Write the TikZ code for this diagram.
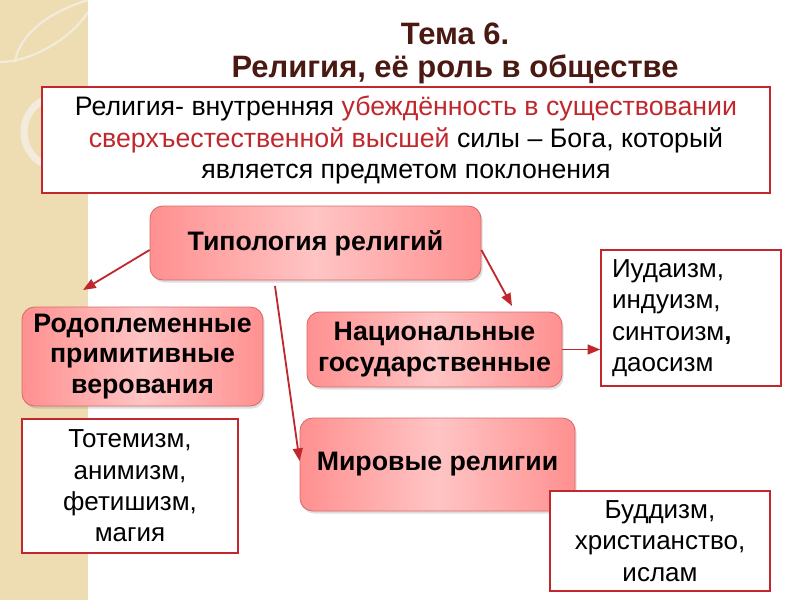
\documentclass[tikz,border=0pt]{standalone}
\usepackage{fontspec}
\setmainfont{Liberation Sans}
\usetikzlibrary{arrows.meta,shadows}
\definecolor{strip}{HTML}{EEDDB2}
\definecolor{deco}{HTML}{F3ECDC}
\definecolor{dred}{HTML}{C0282D}
\definecolor{ttl}{HTML}{4A1A12}
\definecolor{pinkedge}{HTML}{FF9090}
\definecolor{pinkmid}{HTML}{FFC4C4}
\definecolor{pinkline}{HTML}{D86A6A}
\newcommand{\pxu}{0.025cm}
\tikzset{
  pinkbox/.style={draw=pinkline, line width=0.6pt, rounded corners=9pt,
    left color=pinkedge, right color=pinkedge, middle color=pinkmid,
    drop shadow={opacity=0.25, shadow xshift=1.2pt, shadow yshift=-1.8pt},
    font=\fontsize{19}{21.6}\selectfont\bfseries, align=center, inner sep=0pt},
  whitebox/.style={draw=dred, line width=1pt, fill=white,
    font=\fontsize{18.5}{22.3}\selectfont, align=center, inner sep=0pt},
  arr/.style={draw=dred, line width=1.3pt, -{Triangle[length=9pt,width=7pt]}},
}
\begin{document}
\begin{tikzpicture}[x=\pxu, y=-\pxu]
\useasboundingbox (0,0) rectangle (800,600);
% background strip
\fill[white] (0,0) rectangle (800,600);
\fill[strip] (0,0) rectangle (88,600);
\begin{scope}
\clip (0,0) rectangle (88,600);
\draw[deco, line width=1.5pt] (88,0) .. controls (40,15) and (18,40) .. (15,62);
\draw[deco, line width=1.5pt] (0,62) .. controls (30,62) and (70,40) .. (88,12);
\draw[deco, line width=5pt] (60,132) circle (36);
\end{scope}
% title
\node[font=\fontsize{22}{23.4}\selectfont\bfseries, text=ttl, align=center] (title) at (455,53)
  {Тема 6.\\Религия, её роль в обществе};
% definition
\node[whitebox, minimum width={728*\pxu}, minimum height={106*\pxu}, font=\fontsize{19}{22.7}\selectfont] (def) at (406,140)
  {Религия- внутренняя \textcolor{dred}{убеждённость в существовании}\\
   \textcolor{dred}{сверхъестественной высшей} силы – Бога, который\\
   является предметом поклонения};
% pink boxes
\node[pinkbox, minimum width={331*\pxu}, minimum height={74*\pxu}] (typ) at (315.5,243) {Типология религий};
\node[pinkbox, minimum width={241*\pxu}, minimum height={99*\pxu}] (rod) at (142.5,356.5) {Родоплеменные\\примитивные\\верования};
\node[pinkbox, minimum width={255*\pxu}, minimum height={75*\pxu}] (nat) at (434.5,349.5) {Национальные\\государственные};
\node[pinkbox, minimum width={275*\pxu}, minimum height={93*\pxu}] (mir) at (437.5,464.5) {Мировые религии};
% white boxes
\node[whitebox, minimum width={180*\pxu}, minimum height={136*\pxu}, align=left, text width={158*\pxu}] (iud) at (691,318)
  {Иудаизм,\\индуизм,\\синтоизм\textbf{,}\\даосизм};
\node[whitebox, minimum width={216*\pxu}, minimum height={134*\pxu}] (tot) at (130,486)
  {Тотемизм,\\анимизм,\\фетишизм,\\магия};
\node[whitebox, minimum width={220*\pxu}, minimum height={100*\pxu}] (bud) at (660,541)
  {Буддизм,\\христианство,\\ислам};
% arrows
\coordinate (a1) at (83,290);
\coordinate (a2) at (512,306);
\draw[arr] (typ.west |- 0,250) -- (a1);
\draw[arr] (typ.east |- 0,250) -- (a2);
\draw[arr] (275,286) -- (mir.west |- 0,461);
\draw[arr] (nat.east) -- (iud.west |- nat.east);
\end{tikzpicture}
\end{document}
